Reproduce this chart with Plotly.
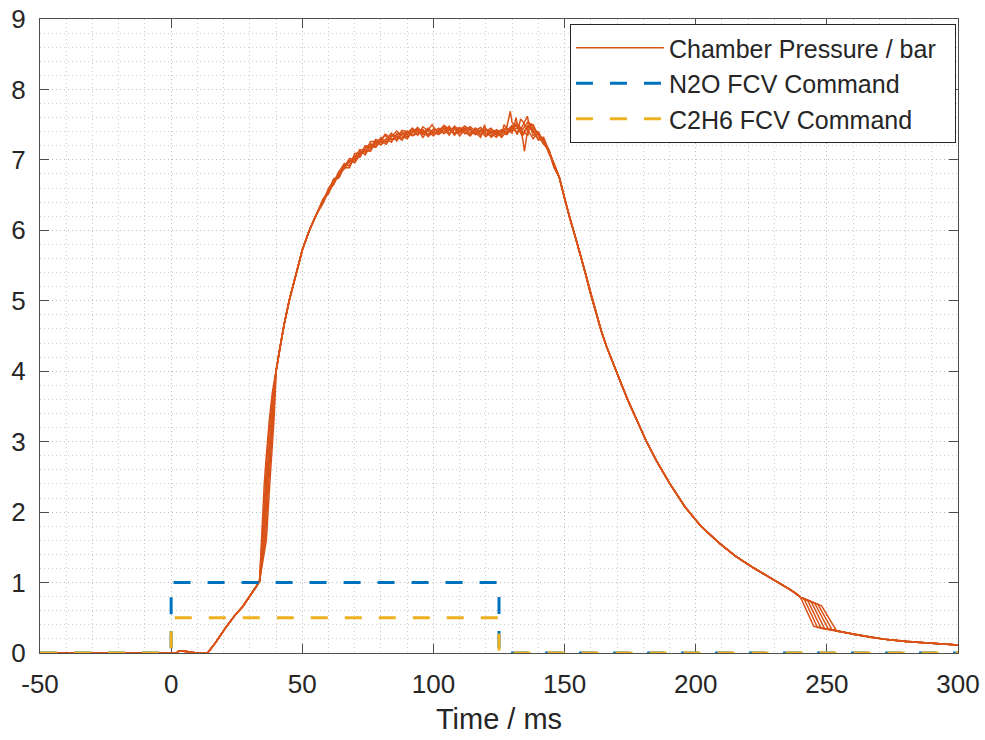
import plotly.graph_objects as go

# ---------------- data ----------------
# Chamber pressure: common part before the steep rise
pre_t = [-50, 2, 3, 4, 6, 7.5, 10, 13.9, 17, 21, 24, 27.3, 30, 32.4, 33.7]
pre_p = [0, 0, 0.03, 0.03, 0.02, 0.01, 0, 0, 0.15, 0.37, 0.52, 0.66, 0.80, 0.94, 1.02]

# steep rise: pressures and per-run times
steep_p = [1.6, 2.4, 2.8, 3.3, 3.7]
rise_t = [
    [34.4, 35.5, 36.3, 37.4, 38.6],
    [34.7, 35.8, 36.6, 37.7, 38.8],
    [35.0, 36.2, 37.0, 38.0, 39.0],
    [35.3, 36.5, 37.3, 38.3, 39.1],
    [35.6, 36.8, 37.6, 38.6, 39.3],
    [35.9, 37.2, 38.0, 38.9, 39.5],
    [36.3, 37.6, 38.4, 39.2, 39.7],
]

mid_t = [40, 41.3, 43, 45, 47.5, 50, 52.5, 55]
mid_p = [4.0, 4.3, 4.65, 5.0, 5.38, 5.72, 5.98, 6.2]

# plateau, every 2 ms from 58 to 146 ms
plat_t = [58, 60, 62, 64, 66, 68, 70, 72, 74, 76, 78, 80, 82, 84, 86, 88, 90, 92,
          94, 96, 98, 100, 102, 104, 106, 108, 110, 112, 114, 116, 118, 120, 122,
          124, 126, 128, 130, 132, 134, 136, 138, 140, 142, 144, 146]
plat_p = [6.42, 6.55, 6.68, 6.78, 6.87, 6.94, 7.01, 7.07, 7.12, 7.17, 7.21, 7.24,
          7.27, 7.30, 7.32, 7.34, 7.35, 7.37, 7.38, 7.38, 7.39, 7.39, 7.39, 7.40,
          7.40, 7.40, 7.40, 7.40, 7.39, 7.39, 7.38, 7.38, 7.37, 7.37, 7.37, 7.39,
          7.41, 7.41, 7.40, 7.40, 7.38, 7.34, 7.27, 7.12, 6.92]

# per-run deviations on the plateau grid
plat_dev = [
    [0.00, 0.03, -0.02, 0.05, 0.08, -0.03, 0.02, 0.06, -0.05, 0.03,
     0.00, 0.08, -0.03, 0.05, 0.02, -0.06, 0.03, 0.08, -0.02, 0.05,
     -0.05, 0.00, 0.06, -0.03, 0.02, 0.05, -0.06, 0.03, -0.02, 0.06,
     -0.03, 0.05, 0.00, -0.05, 0.03, 0.08, 0.12, 0.06, -0.03, 0.09,
     0.05, -0.06, 0.03, 0.00, -0.02],
    [-0.03, 0.02, 0.05, -0.02, 0.03, 0.06, -0.05, 0.00, 0.08, 0.02,
     -0.03, 0.05, 0.09, -0.02, 0.03, 0.06, -0.03, 0.02, 0.05, -0.06,
     0.03, 0.08, -0.02, 0.00, 0.06, -0.05, 0.03, 0.08, 0.02, -0.03,
     0.05, -0.02, 0.06, 0.03, -0.05, 0.02, 0.08, -0.05, 0.15, 0.03,
     -0.08, 0.05, -0.03, 0.03, 0.00],
    [0.02, -0.03, 0.00, 0.06, 0.02, -0.05, 0.08, 0.03, -0.02, 0.09,
     0.05, -0.03, 0.02, 0.08, -0.05, 0.03, 0.00, 0.06, -0.03, 0.09,
     0.02, -0.05, 0.03, 0.08, -0.02, 0.03, 0.06, -0.03, 0.05, 0.00,
     -0.06, 0.03, 0.08, -0.02, 0.02, -0.03, 0.06, 0.11, -0.09, 0.05,
     0.12, 0.00, -0.05, 0.02, -0.03],
    [0.03, 0.00, 0.05, -0.03, 0.06, 0.02, 0.05, -0.03, 0.06, 0.00,
     0.08, 0.02, -0.05, 0.03, 0.09, 0.00, -0.05, 0.03, 0.06, 0.02,
     -0.03, 0.05, 0.00, 0.09, 0.03, -0.02, 0.05, 0.00, -0.05, 0.03,
     0.08, 0.00, -0.03, 0.06, 0.02, 0.05, -0.03, 0.09, 0.03, 0.14,
     0.02, 0.06, -0.02, 0.00, 0.03],
    [-0.02, 0.05, 0.02, -0.03, 0.03, 0.08, 0.00, -0.02, 0.05, 0.06,
     -0.03, 0.03, 0.06, 0.00, -0.03, 0.08, 0.05, -0.02, 0.03, 0.00,
     0.06, -0.03, 0.02, 0.05, -0.05, 0.08, 0.02, 0.05, -0.03, 0.06,
     0.02, -0.05, 0.03, 0.00, 0.06, -0.02, 0.03, 0.08, 0.00, -0.05,
     0.08, 0.03, 0.02, -0.03, 0.02],
    [0.00, 0.02, -0.03, 0.03, 0.00, 0.05, -0.03, 0.03, 0.02, -0.05,
     0.06, 0.00, 0.03, -0.05, 0.05, 0.02, 0.06, -0.03, 0.00, 0.03,
     -0.06, 0.02, 0.05, 0.00, 0.08, -0.03, 0.00, 0.05, 0.06, -0.03,
     0.03, 0.06, -0.05, 0.02, 0.05, 0.00, 0.05, -0.02, 0.08, 0.18,
     -0.03, 0.03, 0.00, 0.02, -0.02],
    [0.02, -0.02, 0.03, 0.00, 0.05, -0.02, 0.03, 0.08, 0.00, -0.03,
     0.03, 0.06, -0.02, 0.05, 0.00, -0.03, 0.05, 0.02, 0.08, -0.02,
     0.05, 0.00, -0.03, 0.05, 0.03, 0.06, -0.02, 0.03, 0.08, 0.02,
     -0.02, 0.06, 0.02, 0.05, -0.03, 0.06, 0.00, 0.05, -0.06, 0.08,
     0.03, -0.05, 0.05, 0.00, 0.02],
]

# isolated spikes near the end of the plateau: (run, time, pressure)
spikes = [(0, 129.3, 7.69), (3, 131.5, 7.60), (1, 133.2, 7.58), (2, 134.7, 7.12),
          (5, 135.8, 7.62), (4, 137.1, 7.52), (6, 126.9, 7.50), (2, 119.5, 7.50),
          (1, 99.5, 7.50), (4, 81.5, 7.36)]

# decay
dec_t = [148, 150, 152, 154, 156, 158, 160, 162, 164, 166, 168, 171, 174, 177, 181,
         185, 190, 196, 202, 209, 215, 222, 228, 234, 236, 238, 240, 242, 244, 246,
         248, 250]
dec_p = [6.75, 6.45, 6.17, 5.92, 5.66, 5.38, 5.09, 4.82, 4.57, 4.35, 4.15, 3.88,
         3.60, 3.34, 3.02, 2.73, 2.41, 2.07, 1.80, 1.56, 1.38, 1.21, 1.08, 0.95,
         0.90, 0.85, 0.79, 0.76, 0.73, 0.70, 0.67, 0.64]

# late drop: per-run knee and landing points
knee_t = [240.0, 241.3, 242.6, 244.0, 245.3, 246.6, 248.0]
knee_p = [0.79, 0.77, 0.75, 0.73, 0.71, 0.69, 0.67]
land_t = [245.0, 246.4, 247.8, 249.2, 250.6, 252.0, 253.6]
land_p = [0.38, 0.365, 0.35, 0.34, 0.335, 0.33, 0.32]

tail_t = [244, 246, 248, 250, 252, 254, 257, 261, 267, 273, 280, 286, 293, 300]
tail_p = [0.40, 0.37, 0.35, 0.34, 0.33, 0.31, 0.29, 0.26, 0.22, 0.19, 0.165,
          0.15, 0.13, 0.115]

# valve commands
cmd_t = [-50, 0, 0, 125, 125, 300]
n2o_cmd = [0, 0, 1, 1, 0, 0]
c2h6_cmd = [0, 0, 0.5, 0.5, 0, 0]

x_ticks = [-50, 0, 50, 100, 150, 200, 250, 300]
x_labels = ["-50", "0", "50", "100", "150", "200", "250", "300"]
y_ticks = [0, 1, 2, 3, 4, 5, 6, 7, 8, 9]
y_labels = ["0", "1", "2", "3", "4", "5", "6", "7", "8", "9"]

# ---------------- figure ----------------
ORANGE = "#D95319"
BLUE = "#0072BD"
YELLOW = "#EDB120"
AX = "#4d4d4d"
TXT = "#262626"
PAD = "\u00a0\u00a0"  # trailing room inside the legend box

fig = go.Figure()

for k in range(len(rise_t)):
    pts = list(zip(pre_t, pre_p))
    pts += list(zip(rise_t[k], steep_p))
    pts += list(zip(mid_t, mid_p))
    pts += [(t, p + d) for t, p, d in zip(plat_t, plat_p, plat_dev[k])]
    pts += [(t, p) for (r, t, p) in spikes if r == k]
    pts += [(t, p) for t, p in zip(dec_t, dec_p) if t < knee_t[k]]
    pts += [(knee_t[k], knee_p[k]), (land_t[k], land_p[k])]
    pts += [(t, p) for t, p in zip(tail_t, tail_p) if t > land_t[k]]
    pts.sort(key=lambda q: q[0])
    fig.add_trace(go.Scatter(
        x=[q[0] for q in pts], y=[q[1] for q in pts], mode="lines",
        line=dict(color=ORANGE, width=1.5),
        name="Chamber Pressure / bar" + PAD,
        showlegend=(k == 0), cliponaxis=False, hoverinfo="skip"))

fig.add_trace(go.Scatter(
    x=cmd_t, y=n2o_cmd, mode="lines",
    line=dict(color=BLUE, width=3, dash="17px,17px"),
    name="N2O FCV Command", cliponaxis=False))
fig.add_trace(go.Scatter(
    x=cmd_t, y=c2h6_cmd, mode="lines",
    line=dict(color=YELLOW, width=3, dash="17px,17px"),
    name="C2H6 FCV Command", cliponaxis=False))

axis_common = dict(
    ticks="inside", ticklen=9, tickwidth=1, tickcolor=AX,
    showline=True, linecolor=AX, linewidth=1, mirror="ticks",
    showgrid=True, gridcolor="#bdbdbd", griddash="1px,3px", gridwidth=1,
    zeroline=False, layer="below traces", automargin=False,
    tickfont=dict(size=26, color=TXT),
)

fig.update_xaxes(
    range=[-50, 300], tickvals=x_ticks, ticktext=x_labels,
    minor=dict(dtick=10, tick0=0, showgrid=True, gridcolor="#cfcfcf",
               griddash="1px,3px", gridwidth=1),
    ticklabelstandoff=8,
    title=dict(text="Time / ms", font=dict(size=29, color=TXT), standoff=10),
    **axis_common)
fig.update_yaxes(
    range=[0, 9], tickvals=y_ticks, ticktext=y_labels,
    minor=dict(dtick=0.2, tick0=0, showgrid=True, gridcolor="#cfcfcf",
               griddash="1px,3px", gridwidth=1),
    ticklabelstandoff=8,
    **axis_common)

fig.update_layout(
    width=985, height=740,
    margin=dict(l=40, r=27, t=19, b=87, autoexpand=False),
    plot_bgcolor="white", paper_bgcolor="white",
    font=dict(family="Liberation Sans, Arial, sans-serif", size=25, color=TXT),
    showlegend=True,
    legend=dict(x=0.5773, y=0.992, xanchor="left", yanchor="top",
                bgcolor="white", bordercolor=TXT, borderwidth=1,
                font=dict(size=25, color=TXT), itemwidth=88),
)

fig.write_html("out.html")
